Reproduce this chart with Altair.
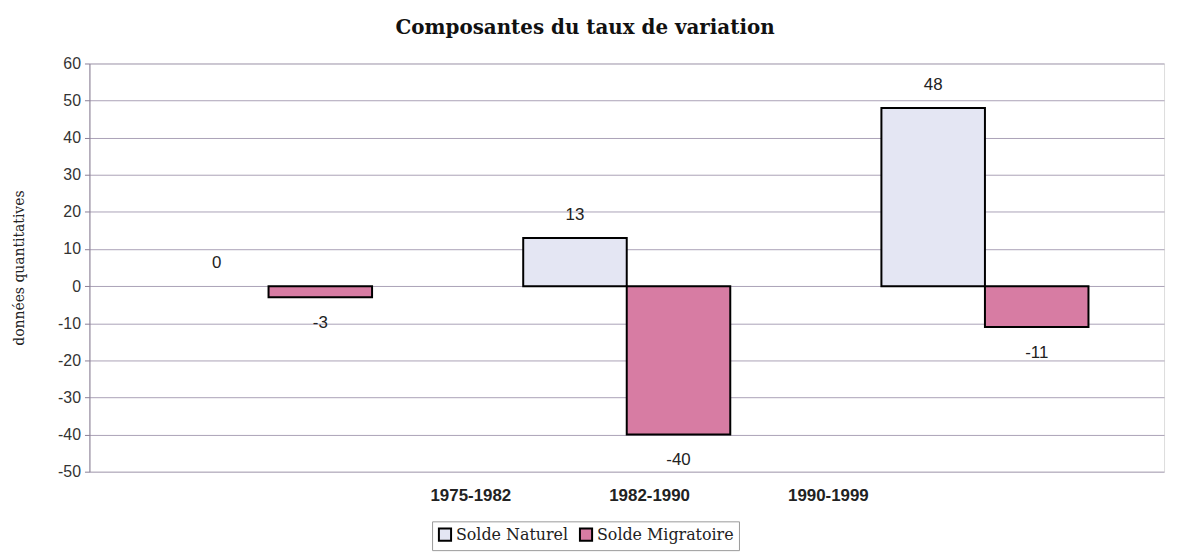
import altair as alt
import pandas as pd

periods = ["1975-1982", "1982-1990", "1990-1999"]
series = ["Solde Naturel", "Solde Migratoire"]
naturel = [0, 13, 48]
migratoire = [-3, -40, -11]

rows = []
for i, p in enumerate(periods):
    rows.append({"period": p, "series": series[0], "value": naturel[i]})
    rows.append({"period": p, "series": series[1], "value": migratoire[i]})
df = pd.DataFrame(rows)

W, H = 1082, 411
colors = ["#e4e6f3", "#d77ca3"]

x_enc = alt.X("period:N", sort=periods,
              scale=alt.Scale(paddingInner=0, paddingOuter=0),
              axis=alt.Axis(labels=False, ticks=False, domain=False, title=None, grid=False))
xoff = alt.XOffset("series:N", sort=series,
                   scale=alt.Scale(paddingInner=0, paddingOuter=0.73))
y_enc = alt.Y("value:Q",
              scale=alt.Scale(domain=[-50, 60], nice=False),
              axis=alt.Axis(values=list(range(-50, 61, 10)), title="données quantitatives",
                            labelExpr="replace(format(datum.value, 'd'), '\u2212', '-')",
                            labelOverlap=False,
                            titleFont="DejaVu Serif", titleFontSize=14, titleFontWeight="normal",
                            titleColor="#222", titleAngle=270, titleX=-70, titleY=H / 2,
                            titleAlign="center", titleBaseline="middle",
                            labelFont="Liberation Sans", labelFontSize=16, labelColor="#333",
                            labelPadding=4, tickSize=5, tickColor="#8a7f96",
                            domainColor="#8a7f96", gridColor="#aaa1b6", gridWidth=1))

base = alt.Chart(df).transform_calculate(
    lbl="replace(format(datum.value, 'd'), '\u2212', '-')")

bars = base.transform_filter(alt.datum.value != 0).mark_bar(stroke="black", strokeWidth=2).encode(
    x=x_enc, xOffset=xoff, y=y_enc,
    color=alt.Color("series:N", sort=series,
                    scale=alt.Scale(domain=series, range=colors),
                    legend=alt.Legend(title=None, orient="none", direction="horizontal",
                                      legendX=345, legendY=461, symbolType="square",
                                      symbolSize=150, symbolStrokeColor="black",
                                      symbolStrokeWidth=2, labelFont="DejaVu Serif",
                                      labelFontSize=16, labelColor="#222",
                                      strokeColor="#999", padding=5, columnPadding=6,
                                      labelOffset=3)),
)

lab_pos = base.transform_filter(alt.datum.series == series[0]).mark_text(
    font="Liberation Sans", fontSize=17, color="#222", dy=-23).encode(
    x=x_enc, xOffset=xoff, y=y_enc, text="lbl:N")
lab_neg = base.transform_filter(alt.datum.series == series[1]).mark_text(
    font="Liberation Sans", fontSize=17, color="#222", dy=26).encode(
    x=x_enc, xOffset=xoff, y=y_enc, text="lbl:N")

label_x = [384, 564, 744]
period_labels = []
for p, px in zip(periods, label_x):
    period_labels.append(
        alt.Chart(pd.DataFrame({"t": [p]})).mark_text(
            font="Liberation Sans", fontSize=17, fontWeight="bold", color="#222").encode(
            x=alt.value(px), y=alt.value(H + 25), text="t:N"))

chart = alt.layer(bars, lab_pos, lab_neg, *period_labels).properties(
    width=W, height=H,
    title=alt.TitleParams("Composantes du taux de variation", font="DejaVu Serif",
                          fontSize=20, fontWeight="bold", color="#111", anchor="middle",
                          dx=-42, offset=18),
    padding={"left": 82, "top": 54, "right": 6, "bottom": 80},
    autosize=alt.AutoSizeParams(type="none"),
).configure_view(stroke="#cfc8d6").configure(background="white")

chart.save("out.html", embed_options={"renderer": "svg", "actions": False})
